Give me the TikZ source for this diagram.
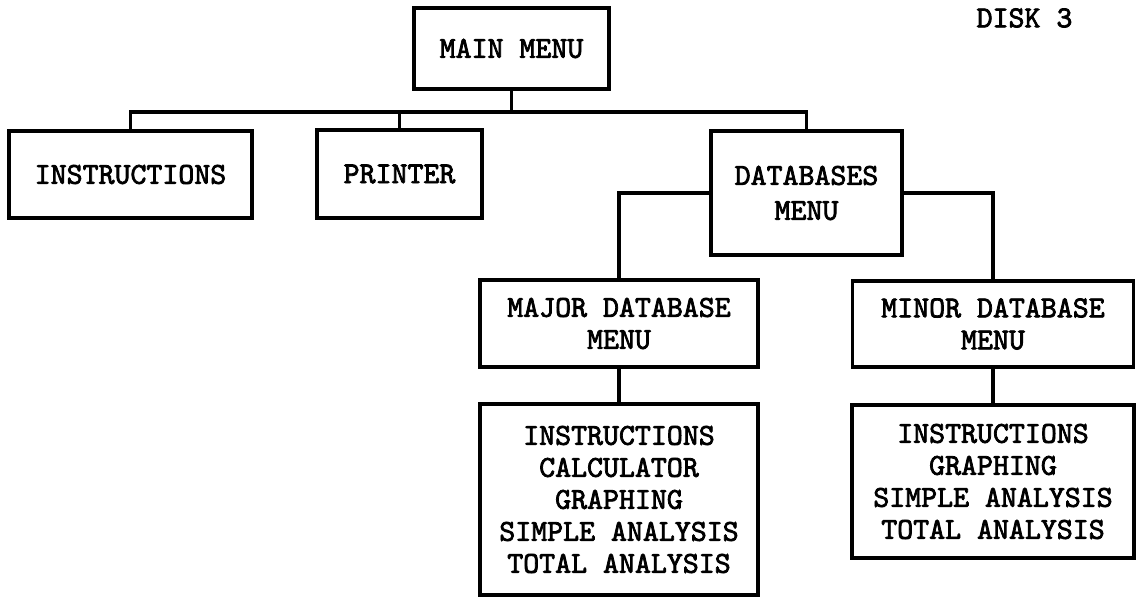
\documentclass[tikz,border=0pt]{standalone}
\usepackage{fontspec}
\usepackage{tikz}
\usetikzlibrary{positioning}
\newfontfamily\boxfont{lmmono10-regular.otf}[FakeBold=2.5]
\tikzset{menubox/.style = {draw, line width = 1.7pt, inner sep = 0, align = center,
                           font = {\boxfont\fontsize{15.2}{16}\selectfont}}}
\tikzset{link/.style = {line width = 1.7pt}}

\begin{document}
\begin{tikzpicture}[x = 0.5pt, y = -0.5pt]
    \useasboundingbox (0, 0) rectangle (1139, 598);

    \node [menubox, minimum width = 97.5pt, minimum height = 40.5pt] (main) at (511.5, 48.5) {MAIN MENU};
    \node [font = {\boxfont\fontsize{15.2}{16}\selectfont}] (disk) at (1024.5, 18) {DISK 3};

    \node [menubox, minimum width = 121.5pt, minimum height = 43.5pt] (instr) at (130.5, 174.5) {INSTRUCTIONS};
    \node [menubox, minimum width = 82.5pt, minimum height = 44pt] (printer) at (399.5, 174) {PRINTER};
    \node [menubox, minimum width = 95.5pt, minimum height = 62pt] (dbmenu) at (806.5, 193) {DATABASES\\[1.5pt]MENU};

    \node [menubox, minimum width = 139pt, minimum height = 43.5pt] (major) at (619, 323.5) {MAJOR DATABASE\\MENU};
    \node [menubox, minimum width = 140.5pt, minimum height = 43pt] (minor) at (993, 324) {MINOR DATABASE\\MENU};

    \node [menubox, minimum width = 139pt, minimum height = 95.5pt] (majorlist) at (619, 499.5)
      {INSTRUCTIONS\\CALCULATOR\\GRAPHING\\SIMPLE ANALYSIS\\TOTAL ANALYSIS};
    \node [menubox, minimum width = 141pt, minimum height = 76.5pt] (minorlist) at (993, 481.5)
      {INSTRUCTIONS\\GRAPHING\\SIMPLE ANALYSIS\\TOTAL ANALYSIS};

    \coordinate (bus) at (511.5, 112);
    \draw [link] (main.south) -- (bus);
    \draw [link] (instr.north) |- (bus) -| (dbmenu.north);
    \draw [link] (printer.north) -- (printer.north |- bus);

    \draw [link] (dbmenu.west) -| (major.north);
    \draw [link] (dbmenu.east) -| (minor.north);
    \draw [link] (major.south) -- (majorlist.north);
    \draw [link] (minor.south) -- (minorlist.north);
  \end{tikzpicture}
\end{document}
